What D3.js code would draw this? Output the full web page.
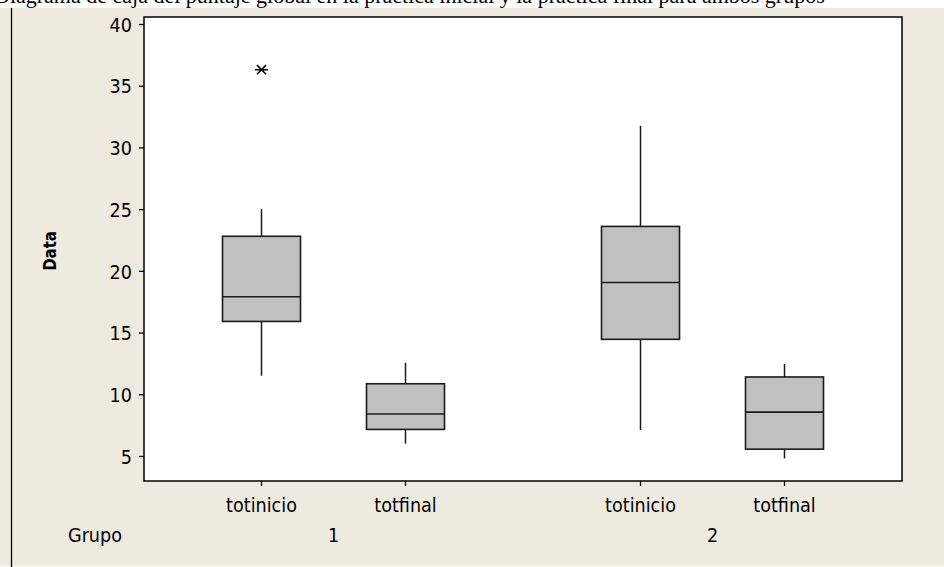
<!DOCTYPE html>
<html><head><meta charset="utf-8">
<script src="https://cdn.jsdelivr.net/npm/d3@7"></script>
<style>body{margin:0;background:#fff;} svg{display:block}</style>
</head><body><svg id="c" width="944" height="567"></svg>
<script>
// ---- data ----
const groups = ["1", "2"];
const categories = ["totinicio", "totfinal"];
const boxGroup = ["1", "1", "2", "2"];
const boxCategory = ["totinicio", "totfinal", "totinicio", "totfinal"];
const whiskerLow = [11.5, 6.0, 7.1, 4.8];
const q1 = [15.9, 7.15, 14.45, 5.55];
const median = [17.9, 8.4, 19.05, 8.55];
const q3 = [22.8, 10.85, 23.6, 11.4];
const whiskerHigh = [25.0, 12.55, 31.75, 12.45];
const outlierGroup = ["1"];
const outlierCategory = ["totinicio"];
const outlierValue = [36.3];
const yTicks = [5, 10, 15, 20, 25, 30, 35, 40];
const yDomain = [2.97, 40.57];
const titleText = "Diagrama de caja del puntaje global en la práctica inicial y la práctica final para ambos grupos";
const yLabel = "Data";
const groupAxisLabel = "Grupo";

// ---- layout ----
const W = 944, H = 567;
const plot = {left: 144, top: 17, width: 758, height: 464};
const beige = "#EEEAE0";
const FONT = "'DejaVu Sans', Verdana, sans-serif";
const SX = 0.88;

const svg = d3.select("#c");

svg.append("rect").attr("width", W).attr("height", H).attr("fill", "#fff");
svg.append("text").attr("x", -6).attr("y", 3)
  .attr("font-family", "'Liberation Serif', 'Times New Roman', serif")
  .attr("font-size", 22).attr("fill", "#000").text(titleText);
svg.append("rect").attr("x", 0).attr("y", 8).attr("width", W).attr("height", H - 8).attr("fill", beige);
svg.append("rect").attr("x", 0).attr("y", H - 1.5).attr("width", W).attr("height", 1.5).attr("fill", "#F7F5F0");
svg.append("line").attr("x1", 11.5).attr("x2", 11.5).attr("y1", 8).attr("y2", H)
  .attr("stroke", "#000").attr("stroke-width", 1.3);

// scales
const y = d3.scaleLinear().domain(yDomain).range([plot.top + plot.height, plot.top]);
const xGroup = d3.scaleBand().domain(groups).range([plot.left, plot.left + plot.width]);
const xCat = d3.scalePoint().domain(categories).range([0, xGroup.bandwidth()]).padding(0.816);
const cx = (g, c) => xGroup(g) + xCat(c);
const boxW = 78;

// frame
svg.append("rect").attr("x", plot.left).attr("y", plot.top)
  .attr("width", plot.width).attr("height", plot.height)
  .attr("fill", "#fff").attr("stroke", "#000").attr("stroke-width", 1.5);

// y axis
const yAxis = svg.append("g").attr("transform", `translate(${plot.left},0)`)
  .call(d3.axisLeft(y).tickValues(yTicks).tickSize(5).tickPadding(0).tickSizeOuter(0));
yAxis.select(".domain").remove();
yAxis.selectAll(".tick line").attr("stroke", "#000").attr("stroke-width", 1.3);
yAxis.selectAll(".tick text")
  .attr("x", null).attr("dy", "0.36em")
  .attr("transform", `translate(-12,0) scale(${SX},1)`)
  .attr("font-family", FONT).attr("font-size", 20).attr("fill", "#000");

// x ticks & labels
const idx = d3.range(boxGroup.length);
const xg = svg.append("g");
xg.selectAll("line.xt").data(idx).join("line").attr("class", "xt")
  .attr("x1", i => cx(boxGroup[i], boxCategory[i])).attr("x2", i => cx(boxGroup[i], boxCategory[i]))
  .attr("y1", plot.top + plot.height).attr("y2", plot.top + plot.height + 5)
  .attr("stroke", "#000").attr("stroke-width", 1.3);
xg.selectAll("text.xl").data(idx).join("text").attr("class", "xl")
  .attr("transform", i => `translate(${cx(boxGroup[i], boxCategory[i])},512) scale(${SX},1)`)
  .attr("text-anchor", "middle").attr("font-family", FONT).attr("font-size", 20).attr("fill", "#000")
  .text(i => boxCategory[i]);
xg.selectAll("text.gl").data(groups).join("text").attr("class", "gl")
  .attr("transform", g => `translate(${xGroup(g) + xGroup.bandwidth() / 2},542) scale(${SX},1)`)
  .attr("text-anchor", "middle").attr("font-family", FONT).attr("font-size", 20).attr("fill", "#000")
  .text(g => g);
svg.append("text").attr("transform", `translate(68,542) scale(${SX},1)`)
  .attr("font-family", FONT).attr("font-size", 20).attr("fill", "#000").text(groupAxisLabel);

// y label
svg.append("text").attr("transform", `translate(56,251) rotate(-90) scale(${SX},1)`)
  .attr("text-anchor", "middle").attr("font-family", FONT).attr("font-weight", "bold")
  .attr("font-size", 17).attr("fill", "#000").text(yLabel);

// boxes
const bx = svg.append("g");
const stroke = "#1a1a1a";
bx.selectAll("line.wh").data(idx).join("line").attr("class", "wh")
  .attr("x1", i => cx(boxGroup[i], boxCategory[i])).attr("x2", i => cx(boxGroup[i], boxCategory[i]))
  .attr("y1", i => y(q3[i])).attr("y2", i => y(whiskerHigh[i]))
  .attr("stroke", stroke).attr("stroke-width", 1.5);
bx.selectAll("line.wl").data(idx).join("line").attr("class", "wl")
  .attr("x1", i => cx(boxGroup[i], boxCategory[i])).attr("x2", i => cx(boxGroup[i], boxCategory[i]))
  .attr("y1", i => y(q1[i])).attr("y2", i => y(whiskerLow[i]))
  .attr("stroke", stroke).attr("stroke-width", 1.5);
bx.selectAll("rect.box").data(idx).join("rect").attr("class", "box")
  .attr("x", i => cx(boxGroup[i], boxCategory[i]) - boxW / 2).attr("width", boxW)
  .attr("y", i => y(q3[i])).attr("height", i => y(q1[i]) - y(q3[i]))
  .attr("fill", "#C0C0C0").attr("stroke", stroke).attr("stroke-width", 1.6);
bx.selectAll("line.med").data(idx).join("line").attr("class", "med")
  .attr("x1", i => cx(boxGroup[i], boxCategory[i]) - boxW / 2).attr("x2", i => cx(boxGroup[i], boxCategory[i]) + boxW / 2)
  .attr("y1", i => y(median[i])).attr("y2", i => y(median[i]))
  .attr("stroke", stroke).attr("stroke-width", 1.6);

// outliers (asterisk)
const r = 6.5;
const ast = `M${-r},0L${r},0M${-r*0.7},${-r*0.7}L${r*0.7},${r*0.7}M${-r*0.7},${r*0.7}L${r*0.7},${-r*0.7}`;
svg.append("g").selectAll("path").data(d3.range(outlierValue.length)).join("path")
  .attr("transform", i => `translate(${cx(outlierGroup[i], outlierCategory[i])},${y(outlierValue[i])})`)
  .attr("d", ast).attr("stroke", "#000").attr("stroke-width", 1.6).attr("fill", "none");
</script></body></html>
